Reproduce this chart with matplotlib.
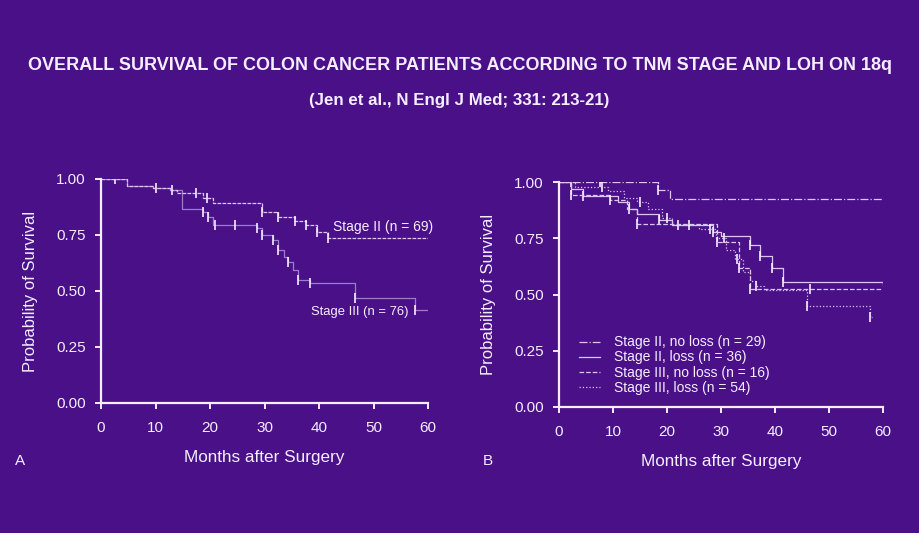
import numpy as np
import matplotlib.pyplot as plt
from matplotlib.lines import Line2D

# --- dados ---
months_ticks = [0, 10, 20, 30, 40, 50, 60]
surv_ticks = [0.0, 0.25, 0.50, 0.75, 1.00]
surv_ticklabels = ['0.00', '0.25', '0.50', '0.75', '1.00']

# painel A
a2_t = [0, 4.7, 9.6, 12.7, 13.9, 18.8, 20.6, 29.5, 32.5, 35.6, 37.7, 39.6, 41.7, 60]
a2_s = [1.0, 0.97, 0.958, 0.951, 0.936, 0.914, 0.891, 0.851, 0.832, 0.814, 0.795, 0.765, 0.735, 0.735]
a2_cens = [2.5, 10.0, 13.0, 17.5, 19.5, 29.5, 32.5, 35.6, 37.7, 39.6, 41.7]
a3_t = [0, 4.7, 9.6, 12.7, 14.8, 18.8, 19.7, 20.6, 28.6, 29.5, 31.5, 32.5, 33.5, 34.4, 35.3, 36.2, 38.3, 46.6, 57.6, 60]
a3_s = [1.0, 0.97, 0.958, 0.951, 0.865, 0.854, 0.83, 0.795, 0.78, 0.75, 0.728, 0.683, 0.653, 0.631, 0.594, 0.549, 0.534, 0.467, 0.415, 0.415]
a3_cens = [18.8, 19.7, 21.0, 24.6, 28.6, 29.5, 31.5, 32.5, 34.4, 36.2, 38.3, 46.6, 57.6]

# painel B
b_labels = ['Stage II, no loss (n = 29)', 'Stage II, loss (n = 36)',
            'Stage III, no loss (n = 16)', 'Stage III, loss (n = 54)']
b1_t = [0, 18.4, 20.6, 60]
b1_s = [1.0, 0.966, 0.926, 0.926]
b1_cens = [2.3, 7.6, 18.4]
b2_t = [0, 2.3, 4.5, 11.0, 13.0, 14.5, 18.5, 21.0, 28.5, 30.0, 35.4, 37.2, 39.4, 41.4, 60]
b2_s = [1.0, 0.97, 0.94, 0.91, 0.88, 0.86, 0.83, 0.81, 0.78, 0.76, 0.72, 0.67, 0.62, 0.555, 0.542]
b2_cens = [4.5, 13.0, 18.5, 22.0, 28.5, 35.4, 37.2, 39.4, 41.4]
b3_t = [0, 2.3, 9.5, 12.5, 14.4, 29.3, 33.4, 35.4, 60]
b3_s = [1.0, 0.941, 0.92, 0.88, 0.815, 0.734, 0.62, 0.523, 0.523]
b3_cens = [2.3, 9.5, 14.4, 29.3, 33.4, 35.4, 46.5]
b4_t = [0, 3.0, 9.0, 12.0, 14.5, 16.5, 19.0, 21.0, 26.0, 29.0, 31.0, 32.5, 34.0, 35.3, 36.5, 38.0, 46.0, 57.5, 58]
b4_s = [1.0, 0.98, 0.96, 0.93, 0.91, 0.88, 0.84, 0.81, 0.79, 0.75, 0.70, 0.66, 0.60, 0.56, 0.54, 0.52, 0.45, 0.40, 0.40]
b4_cens = [8.0, 15.0, 20.0, 24.0, 28.0, 30.5, 33.0, 36.5, 46.0, 57.5]

BG = '#4a1088'
FG = '#f4eeff'
LC = '#d9c6f5'
plt.rcParams['font.family'] = ['Liberation Sans', 'DejaVu Sans']

fig = plt.figure(figsize=(9.19, 5.33), dpi=100, facecolor=BG)

def estilizar(ax):
    ax.set_facecolor(BG)
    for s in ['top', 'right']:
        ax.spines[s].set_visible(False)
    for s in ['left', 'bottom']:
        ax.spines[s].set_color(FG)
        ax.spines[s].set_linewidth(1.6)
    ax.set_xlim(0, 60)
    ax.set_ylim(0, 1.0)
    ax.set_xticks(months_ticks)
    ax.set_yticks(surv_ticks)
    ax.set_yticklabels(surv_ticklabels)
    ax.tick_params(colors=FG, labelsize=11, length=4, width=1.4)
    ax.tick_params(axis='y', pad=7)
    ax.tick_params(axis='x', pad=9)
    ax.set_xlabel('Months after Surgery', color=FG, fontsize=12.3, labelpad=11)
    ax.set_ylabel('Probability of Survival', color=FG, fontsize=12, labelpad=13)

def curva(ax, t, s, cens, ls, alpha=1.0):
    ax.step(t, s, where='post', color=LC, lw=0.9, ls=ls, alpha=alpha)
    cy = [s[np.searchsorted(t, c, side='right') - 1] for c in cens]
    ax.plot(cens, cy, ls='none', marker='|', ms=7, mew=1.2, color=FG)

# --- painel A ---
axA = fig.add_axes([101 / 919, 130 / 533, 327 / 919, 224 / 533])
estilizar(axA)
curva(axA, a2_t, a2_s, a2_cens, (0, (3, 1)))
curva(axA, a3_t, a3_s, a3_cens, '-', alpha=0.6)
axA.text(42.5, 0.77, 'Stage II (n = 69)', color=FG, fontsize=10)
axA.text(38.6, 0.395, 'Stage III (n = 76)', color=FG, fontsize=9.4)

# --- painel B ---
axB = fig.add_axes([559 / 919, 126 / 533, 324 / 919, 225 / 533])
estilizar(axB)
estilos = ['-.', '-', '--', ':']
for (t, s, c), ls in zip([(b1_t, b1_s, b1_cens), (b2_t, b2_s, b2_cens),
                          (b3_t, b3_s, b3_cens), (b4_t, b4_s, b4_cens)], estilos):
    curva(axB, t, s, c, ls)
handles = [Line2D([], [], color=LC, lw=0.9, ls=ls) for ls in estilos]
leg = axB.legend(handles, b_labels, loc='lower left', bbox_to_anchor=(0.045, 0.03),
                 frameon=False, fontsize=10, handlelength=1.5, handletextpad=1.0,
                 labelspacing=0.08, borderaxespad=0)
for tx in leg.get_texts():
    tx.set_color(FG)

# --- textos ---
titulo = fig.text(0.5, 1 - 66 / 533,
                  'OVERALL SURVIVAL OF COLON CANCER PATIENTS ACCORDING TO TNM STAGE AND LOH ON 18q',
                  ha='center', va='center', color=FG, fontsize=17, fontweight='bold')
sub = fig.text(0.5, 1 - 100 / 533, '(Jen et al., N Engl J Med; 331: 213-21)',
               ha='center', va='center', color=FG, fontsize=15, fontweight='bold')
fig.text(15 / 919, 1 - 461 / 533, 'A', ha='left', va='center', color=FG, fontsize=11)
fig.text(483 / 919, 1 - 461 / 533, 'B', ha='left', va='center', color=FG, fontsize=11)

# ajusta largura dos titulos
r = fig.canvas.get_renderer()
for txt, larg in [(titulo, 862), (sub, 302)]:
    w = txt.get_window_extent(r).width
    txt.set_fontsize(txt.get_fontsize() * larg / w)

fig.savefig('out.png', dpi=100, facecolor=BG)
